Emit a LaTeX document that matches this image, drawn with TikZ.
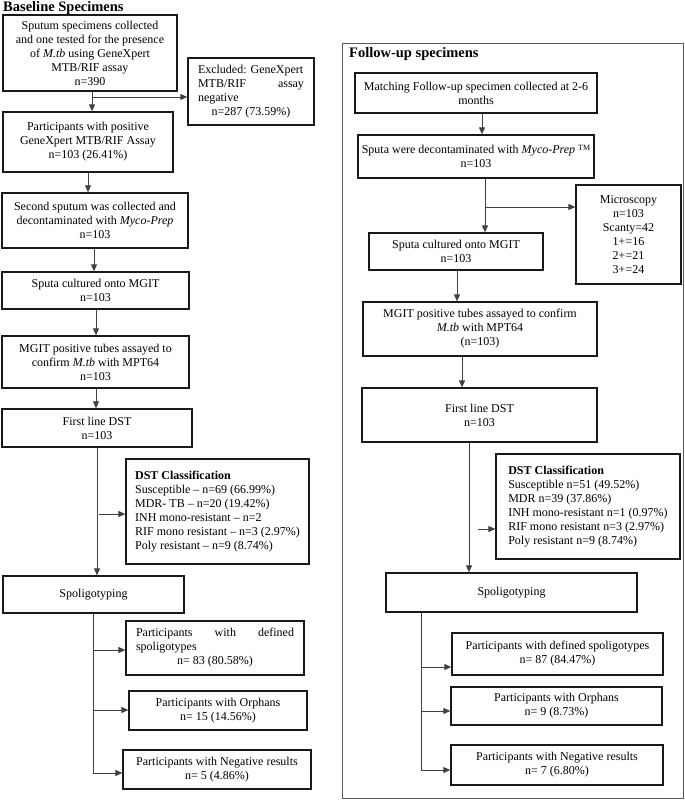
\documentclass[tikz,border=0pt]{standalone}
\usepackage{fontspec}
\setmainfont{Liberation Serif}
\usetikzlibrary{arrows.meta}
\begin{document}
\begin{tikzpicture}[x=1pt,y=-1pt,
 box/.style={draw=black!90, line width=1.3pt, align=center, inner sep=2pt, font=\fontsize{12}{14}\selectfont},
 arr/.style={draw=black!75, line width=0.9pt, -{Triangle[length=7pt,width=6pt]}},
 ln/.style={draw=black!75, line width=0.9pt},
 ttl/.style={font=\fontsize{14.5}{16}\selectfont\bfseries, inner sep=0pt, anchor=base west}]
\useasboundingbox (0,0) rectangle (685,803);
% follow-up frame
\node[draw=black!65, line width=0.8pt, minimum width=341pt, minimum height=755pt, inner sep=0pt] (outer) at (512.5,420.5) {};
% titles
\node[ttl] (t1) at (3,11) {Baseline Specimens};
\node[ttl] (t2) at (349,57.5) {Follow-up specimens};
% ---------------- left column
\node[box, minimum width=174pt, minimum height=76pt] (b1) at (90,53) {Sputum specimens collected\\and one tested for the presence\\of \textit{M.tb} using GeneXpert\\MTB/RIF assay\\n=390};
\node[box, minimum width=126pt, minimum height=67pt] (excl) at (251,91.5) {\makebox[106pt][l]{Excluded: GeneXpert}\\\makebox[106pt][s]{MTB/RIF\hfill assay}\\\makebox[106pt][l]{negative}\\n=287 (73.59\%)};
\node[box, minimum width=170pt, minimum height=60pt] (b2) at (88,142) {Participants with positive\\GeneXpert MTB/RIF Assay\\n=103 (26.41\%)};
\node[box, minimum width=186pt, minimum height=55pt] (b3) at (95,220.5) {Second sputum was collected and\\decontaminated with \textit{Myco-Prep}\\n=103};
\node[box, minimum width=187pt, minimum height=37pt] (b4) at (95.5,290.5) {Sputa cultured onto MGIT\\n=103};
\node[box, minimum width=187pt, minimum height=52pt] (b5) at (95.5,362) {MGIT positive tubes assayed to\\confirm \textit{M.tb} with MPT64\\n=103};
\node[box, minimum width=190pt, minimum height=38pt] (b6) at (97,428) {First line DST\\n=103};
\node[box, minimum width=183pt, minimum height=105pt, align=left] (dst) at (217.5,511.5) {\textbf{DST Classification}\\Susceptible -- n=69 (66.99\%)\\MDR- TB -- n=20 (19.42\%)\\INH mono-resistant -- n=2\\RIF mono resistant -- n=3 (2.97\%)\\Poly resistant -- n=9 (8.74\%)};
\node[box, minimum width=181pt, minimum height=37pt] (sp) at (93.5,594.5) {Spoligotyping};
\node[box, minimum width=178pt, minimum height=54pt] (def) at (215,648) {\makebox[158pt][s]{Participants\hfill with\hfill defined}\\\makebox[158pt][l]{spoligotypes}\\n= 83 (80.58\%)};
\node[box, minimum width=178pt, minimum height=39pt] (orph) at (218,710.5) {Participants with Orphans\\n= 15 (14.56\%)};
\node[box, minimum width=188pt, minimum height=39pt] (neg) at (217,769.5) {Participants with Negative results\\n= 5 (4.86\%)};
% left connectors
\coordinate (j1) at (92,97);
\draw[arr] (b1.south -| j1) -- (b2.north -| j1);
\draw[arr] (j1) -- (j1 -| excl.west);
\coordinate (x2) at (88,0);
\draw[arr] (b2.south -| x2) -- (b3.north -| x2);
\coordinate (x3) at (94,0);
\draw[arr] (b3.south -| x3) -- (b4.north -| x3);
\coordinate (x4) at (96,0);
\draw[arr] (b4.south -| x4) -- (b5.north -| x4);
\draw[arr] (b5.south -| x4) -- (b6.north -| x4);
\coordinate (x6) at (97,0);
\draw[arr] (b6.south -| x6) -- (sp.north -| x6);
\coordinate (j2) at (99,514);
\draw[arr] (j2) -- (j2 -| dst.west);
\coordinate (k1) at (94,650);
\coordinate (k2) at (94,710);
\coordinate (k3) at (93,773);
\draw[ln] (sp.south -| k3) -- (k3);
\draw[arr] (k1) -- (k1 -| def.west);
\draw[arr] (k2) -- (k2 -| orph.west);
\draw[arr] (k3) -- (k3 -| neg.west);
% ---------------- right column
\node[box, minimum width=242pt, minimum height=40pt] (f1) at (476,93) {Matching Follow-up specimen collected at 2-6\\months};
\node[box, minimum width=236pt, minimum height=43pt] (f2) at (476,156.5) {Sputa were decontaminated with \textit{Myco-Prep} \raisebox{3pt}{\fontsize{8}{8}\selectfont TM}\\n=103};
\node[box, minimum width=105pt, minimum height=99pt] (micro) at (628.5,234.5) {Microscopy\\n=103\\Scanty=42\\1+=16\\2+=21\\3+=24};
\node[box, minimum width=174pt, minimum height=37pt] (f3) at (456,251.5) {Sputa cultured onto MGIT\\n=103};
\node[box, minimum width=234pt, minimum height=54pt] (f4) at (480,329) {MGIT positive tubes assayed to confirm\\\textit{M.tb} with MPT64\\(n=103)};
\node[box, minimum width=235pt, minimum height=54pt] (f5) at (479.5,415) {First line DST\\n=103};
\node[box, minimum width=184pt, minimum height=105pt, align=left] (fdst) at (588,506.5) {\textbf{DST Classification}\\Susceptible n=51 (49.52\%)\\MDR n=39 (37.86\%)\\INH mono-resistant n=1 (0.97\%)\\RIF mono resistant n=3 (2.97\%)\\Poly resistant n=9 (8.74\%)};
\node[box, minimum width=251pt, minimum height=39pt] (fsp) at (511.5,592.5) {Spoligotyping};
\node[box, minimum width=211pt, minimum height=42pt] (fdef) at (557.5,654) {Participants with defined spoligotypes\\n= 87 (84.47\%)};
\node[box, minimum width=211pt, minimum height=38pt] (forph) at (556.5,706) {Participants with Orphans\\n= 9 (8.73\%)};
\node[box, minimum width=212pt, minimum height=40pt] (fneg) at (557,765) {Participants with Negative results\\n= 7 (6.80\%)};
% right connectors
\coordinate (y1) at (482,0);
\draw[arr] (f1.south -| y1) -- (f2.north -| y1);
\coordinate (j3) at (485,207);
\draw[arr] (f2.south -| j3) -- (f3.north -| j3);
\draw[arr] (j3) -- (j3 -| micro.west);
\coordinate (y3) at (457,0);
\draw[arr] (f3.south -| y3) -- (f4.north -| y3);
\coordinate (y4) at (462,0);
\draw[arr] (f4.south -| y4) -- (f5.north -| y4);
\coordinate (y5) at (469,0);
\draw[arr] (f5.south -| y5) -- (fsp.north -| y5);
\coordinate (j4) at (478,529);
\draw[arr] (j4) -- (j4 -| fdst.west);
\coordinate (m1) at (421,667);
\coordinate (m2) at (421,711);
\coordinate (m3) at (421,770);
\draw[ln] (fsp.south -| m3) -- (m3);
\draw[arr] (m1) -- (m1 -| fdef.west);
\draw[arr] (m2) -- (m2 -| forph.west);
\draw[arr] (m3) -- (m3 -| fneg.west);
\end{tikzpicture}
\end{document}
